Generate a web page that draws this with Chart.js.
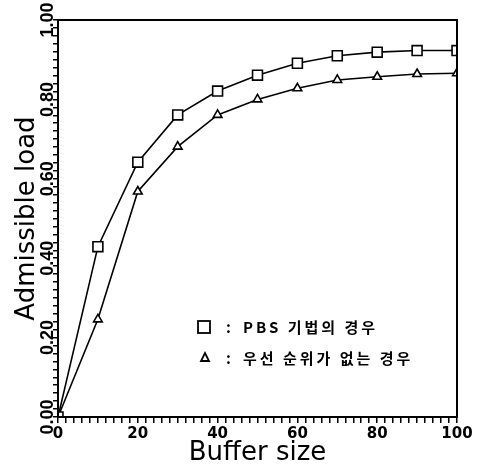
<!DOCTYPE html>
<html>
<head>
<meta charset="utf-8">
<script src="https://cdn.jsdelivr.net/npm/chart.js@4.4.1/dist/chart.umd.min.js"></script>
<style>
  html, body { margin: 0; padding: 0; background: #fff; }
  #wrap { width: 478px; height: 469px; }
</style>
</head>
<body>
<div id="wrap"><canvas id="chart"></canvas></div>
<script>
// buffer sizes on the x axis
const bufferSizes = [0, 10, 20, 30, 40, 50, 60, 70, 80, 90, 100];
// admissible load, PBS scheme (squares)
const pbsLoad = [0, 0.429, 0.642, 0.761, 0.821, 0.861, 0.891, 0.910, 0.919, 0.923, 0.923];
// admissible load, no priority (triangles)
const noPriorityLoad = [0, 0.246, 0.568, 0.681, 0.761, 0.800, 0.828, 0.849, 0.857, 0.864, 0.866];

const yTickValues = [0, 0.2, 0.4, 0.6, 0.8, 1.0];
const yTickLabels = ["0.00", "0.20", "0.40", "0.60", "0.80", "1.00"];
const xTickValues = [0, 20, 40, 60, 80, 100];
const xTickLabels = ["0", "20", "40", "60", "80", "100"];

const legendLabels = ["PBS 기법의 경우", "우선 순위가 없는 경우"];

const toPoints = (ys) => bufferSizes.map((x, i) => ({ x: x, y: ys[i] }));

// frame + rotated y tick labels + legend inside the plot
const extras = {
  id: "extras",
  afterDraw(chart) {
    const { ctx, chartArea, scales } = chart;
    ctx.save();
    ctx.strokeStyle = "#000";
    ctx.lineWidth = 2;
    ctx.strokeRect(chartArea.left, chartArea.top, chartArea.right - chartArea.left, chartArea.bottom - chartArea.top);

    // y tick labels, rotated like the original
    ctx.fillStyle = "#000";
    ctx.font = "bold 18px 'Liberation Sans', Arial, sans-serif";
    ctx.textAlign = "center";
    ctx.textBaseline = "alphabetic";
    yTickValues.forEach((v, i) => {
      const y = scales.y.getPixelForValue(v);
      ctx.save();
      ctx.translate(53, y);
      ctx.rotate(-Math.PI / 2);
      ctx.fillText(yTickLabels[i], 0, 0);
      ctx.restore();
    });

    // legend
    ctx.lineWidth = 1.8;
    ctx.strokeRect(198, 321, 12, 12);
    ctx.beginPath();
    ctx.moveTo(201, 361);
    ctx.lineTo(209, 361);
    ctx.lineTo(205, 353);
    ctx.closePath();
    ctx.stroke();
    ctx.font = "bold 15px 'Noto Sans CJK KR', sans-serif";
    ctx.textAlign = "left";
    ctx.textBaseline = "middle";
    ctx.fillText(":", 226, 327);
    ctx.fillText(":", 226, 358);
    ctx.letterSpacing = "3px";
    ctx.fillText(legendLabels[0], 243, 327);
    ctx.fillText(legendLabels[1], 243, 358);
    ctx.restore();
  }
};

new Chart(document.getElementById("chart"), {
  type: "line",
  data: {
    datasets: [
      {
        label: legendLabels[0],
        data: toPoints(pbsLoad),
        borderColor: "#000",
        borderWidth: 1.6,
        backgroundColor: "#fff",
        pointStyle: "rect",
        pointRadius: 7,
        pointBorderWidth: 1.6,
        tension: 0,
      },
      {
        label: legendLabels[1],
        data: toPoints(noPriorityLoad),
        borderColor: "#000",
        borderWidth: 1.6,
        backgroundColor: "#fff",
        pointStyle: "triangle",
        pointRadius: 5,
        pointBorderWidth: 1.6,
        tension: 0,
      },
    ],
  },
  options: {
    responsive: true,
    maintainAspectRatio: false,
    animation: false,
    layout: { padding: { left: 0, right: 21, top: 20, bottom: 0 } },
    plugins: {
      legend: { display: false },
      tooltip: { enabled: false },
    },
    scales: {
      x: {
        type: "linear",
        min: 0,
        max: 100,
        afterFit: (scale) => { scale.height = 52; },
        border: { display: true, color: "#000", width: 2 },
        grid: { drawOnChartArea: false, drawTicks: true, tickLength: 6, color: "#000", lineWidth: 1.5 },
        ticks: {
          stepSize: 2,
          maxTicksLimit: 101,
          autoSkip: false,
          maxRotation: 0,
          padding: 2,
          color: "#000",
          font: { family: "'DejaVu Sans', sans-serif", size: 15, weight: "bold" },
          callback: (v) => {
            const i = xTickValues.indexOf(v);
            return i >= 0 ? xTickLabels[i] : "";
          },
        },
        title: {
          display: true,
          text: "Buffer size",
          color: "#000",
          font: { family: "'DejaVu Sans', sans-serif", size: 26 },
          padding: { top: 0, bottom: 0 },
        },
      },
      y: {
        min: 0,
        max: 1,
        afterFit: (scale) => { scale.width = 58; },
        border: { display: true, color: "#000", width: 2 },
        grid: { drawOnChartArea: false, drawTicks: true, tickLength: 5, color: "#000", lineWidth: 1.5 },
        ticks: {
          stepSize: 0.02,
          maxTicksLimit: 101,
          autoSkip: false,
          callback: () => "",
        },
        title: {
          display: true,
          text: "Admissible load",
          color: "#000",
          font: { family: "'DejaVu Sans', sans-serif", size: 26 },
          padding: { top: 12, bottom: 0 },
        },
      },
    },
  },
  plugins: [extras],
});
</script>
</body>
</html>
